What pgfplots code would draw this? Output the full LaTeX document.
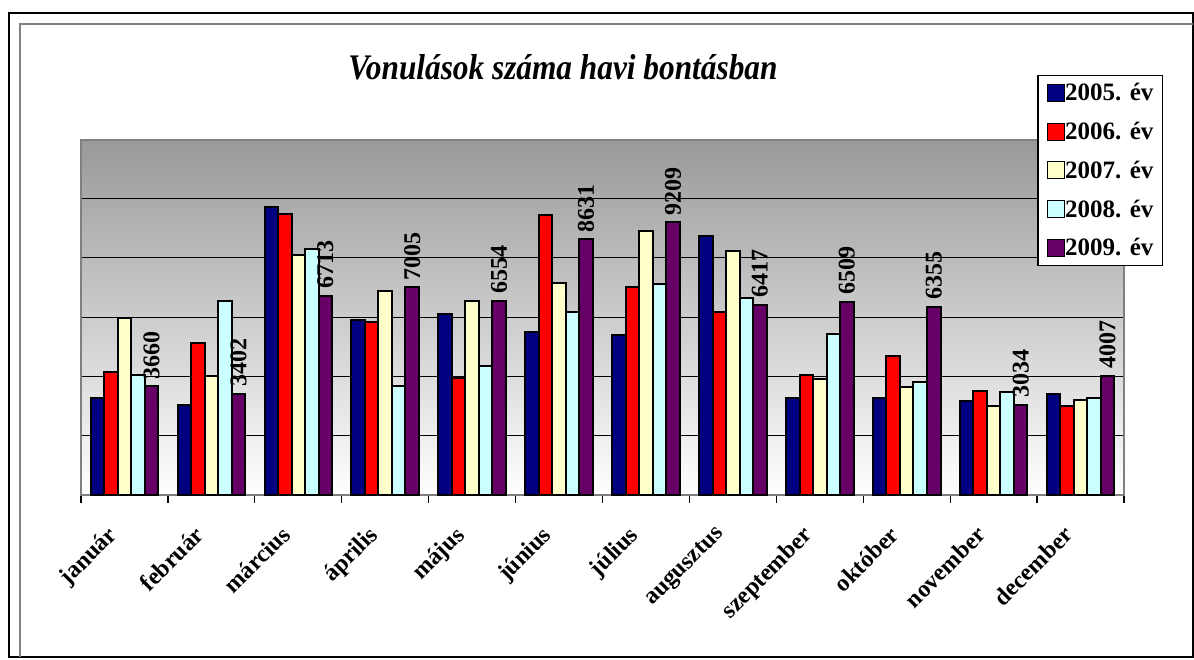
\documentclass[border=0pt]{standalone}
\usepackage{fontspec}
\setmainfont{Liberation Serif}
\usepackage{graphicx}
\usepackage{pgfplots}
\pgfplotsset{compat=1.18}
\usepackage{pgfplotstable}
\definecolor{c2005}{RGB}{0,0,128}
\definecolor{c2006}{RGB}{255,0,0}
\definecolor{c2007}{RGB}{255,255,204}
\definecolor{c2008}{RGB}{204,255,255}
\definecolor{c2009}{RGB}{102,0,102}
\definecolor{bgtop}{RGB}{153,153,153}
\pgfplotstableread{
m  y2005 y2006 y2007 y2008 y2009
1  3261  4142  5973  4027  3660
2  3010  5136  4007  6549  3402
3  9712  9498  8085  8312  6713
4  5905  5837  6888  3678  7005
5  6085  3949  6525  4333  6554
6  5485  9441  7146  6163  8631
7  5397  7000  8909  7125  9209
8  8753  6153  8220  6637  6417
9  3271  4051  3905  5441  6509
10 3271  4695  3621  3814  6355
11 3169  3508  2990  3475  3034
12 3407  3000  3203  3248  4007
}\datatable
\begin{document}
\begin{tikzpicture}
\useasboundingbox (0,0) rectangle (597pt,-329.5pt);
\fill[white] (0,0) rectangle (597pt,-329.5pt);
\draw[black, line width=1pt] (4.5pt,-6.5pt) rectangle (596.5pt,-328.5pt);
\draw[gray, line width=0.7pt] (10pt,-328.5pt) -- (10pt,-12pt) -- (596.5pt,-12pt);
\node[anchor=base, inner sep=0pt, font=\fontsize{18}{20}\selectfont\bfseries\itshape] at (281.5pt,-39.5pt) {\scalebox{0.87}[1]{Vonulások száma havi bontásban}};
\begin{axis}[
  at={(40.5pt,-247.25pt)}, anchor=south west,
  scale only axis, width=521.5pt, height=177.5pt,
  xmin=0.5, xmax=12.5, ymin=0, ymax=12000,
  ybar=0pt, bar width=0.1555,
  xtick={1,...,12},
  xticklabels={január,február,március,április,május,június,július,augusztus,szeptember,október,november,december},
  major x tick style={draw=none},
  minor xtick={0.5,1.5,...,12.5},
  minor x tick style={black, line width=0.6pt},
  minor tick length=4pt,
  tick align=outside,
  xtick pos=lower,
  ytick={2000,4000,...,10000},
  yticklabels={},
  scaled y ticks=false,
  major y tick style={draw=none},
  ymajorgrids, grid style={black, line width=0.5pt},
  axis line style={draw=gray, line width=1pt},
  axis background/.style={top color=bgtop, bottom color=white},
  xticklabel style={rotate=45, anchor=north east, inner sep=0pt, font=\fontsize{12}{14}\selectfont\bfseries, xshift=-13.9pt, yshift=-1pt},
  clip=false,
  /pgf/number format/1000 sep={},
  /pgf/number format/assume math mode=true,
  legend style={at={(1.0374,0.6437)}, anchor=south east, draw=black, line width=0.6pt, fill=white,
    font=\fontsize{12.5}{14}\selectfont\bfseries, inner xsep=4.5pt, inner ysep=3.8pt, row sep=9.35pt,
    nodes={inner sep=0pt, text height=9pt, text depth=1pt}, cells={anchor=west}},
  legend image code/.code={\draw[#1, line width=0.6pt] (0pt,-4.25pt) rectangle (8.5pt,4.25pt);},
]
\addplot[fill=c2005, draw=black, line width=1pt] table[x=m,y=y2005]{\datatable};
\addplot[fill=c2006, draw=black, line width=1pt] table[x=m,y=y2006]{\datatable};
\addplot[fill=c2007, draw=black, line width=1pt] table[x=m,y=y2007]{\datatable};
\addplot[fill=c2008, draw=black, line width=1pt] table[x=m,y=y2008]{\datatable};
\addplot[fill=c2009, draw=black, line width=1pt, nodes near coords,
  every node near coord/.append style={rotate=90, anchor=west, text=black, inner sep=3pt, font=\fontsize{12}{14}\selectfont\bfseries}] table[x=m,y=y2009]{\datatable};
\legend{2005. év,2006. év,2007. év,2008. év,2009. év}
\end{axis}
\end{tikzpicture}
\end{document}
